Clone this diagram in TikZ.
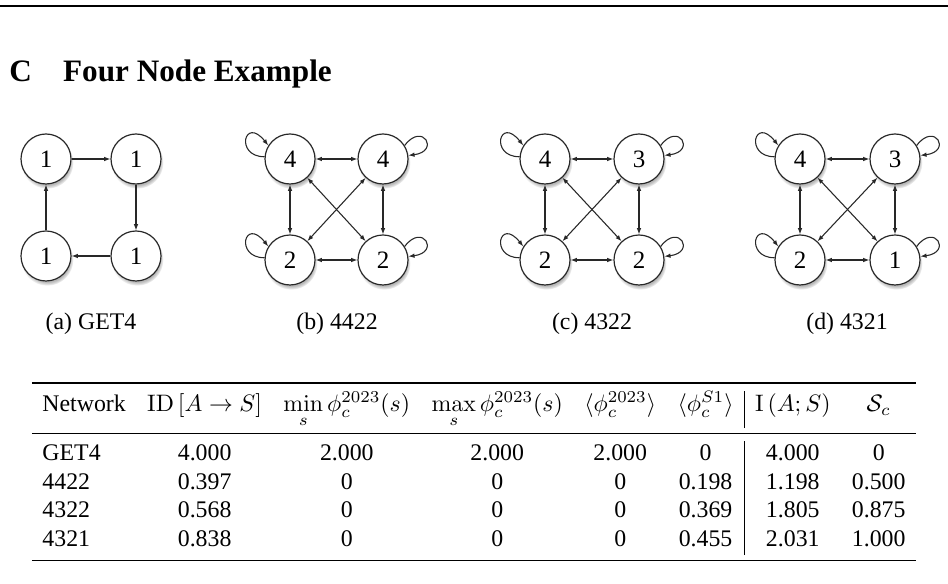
\documentclass[tikz,border=0pt]{standalone}
\usepackage{amsmath,amssymb}
\usepackage[no-math]{fontspec}
\setmainfont{Liberation Serif}
\usepackage{booktabs}
\usepackage{xcolor}
\usepackage{tikz}
\usetikzlibrary{arrows.meta,positioning,shadows}
\definecolor{edgecol}{RGB}{40,40,40}
\tikzset{
  arc/.style={-{Latex[length=2.6pt,width=1.9pt]},line width=0.45pt,draw=edgecol},
  biarc/.style={{Latex[length=2.6pt,width=1.9pt]}-{Latex[length=2.6pt,width=1.9pt]},
    line width=0.45pt,draw=edgecol},
  vtx/.style={circle,draw=edgecol,line width=0.5pt,fill=white,minimum size=21pt,
    inner sep=0pt,font=\fontsize{10.5}{12}\selectfont,
    circular drop shadow={shadow xshift=0.5pt,shadow yshift=-1.4pt,
      shadow scale=1.05,opacity=0.55}},
  subcap/.style={anchor=base,font=\fontsize{10}{12}\selectfont},
  heading/.style={anchor=base west,inner sep=0pt,font=\fontsize{13.1}{15}\selectfont\bfseries}
}

\begin{document}
\begin{tikzpicture}[x=0.42pt,y=-0.42pt]
  \path[fill=white,use as bounding box] (0,0) rectangle (948,584);
  \draw[line width=0.5pt] (0,6) -- (948,6);
  \node[heading] (sec) at (9,82) {C\hspace{1em}Four Node Example};

  % (a) GET4
  \node[vtx] (aTL) at (46,159) {1};
  \node[vtx] (aTR) at (136,159) {1};
  \node[vtx] (aBL) at (46,256) {1};
  \node[vtx] (aBR) at (136,256) {1};
  \draw[arc] (aTL)--(aTR);
  \draw[arc] (aTR)--(aBR);
  \draw[arc] (aBR)--(aBL);
  \draw[arc] (aBL)--(aTL);
  \node[subcap] (capA) at (91,330) {(a) GET4};

  % (b) 4422
  \node[vtx] (bTL) at (290,159) {4};
  \node[vtx] (bTR) at (383,159) {4};
  \node[vtx] (bBL) at (290,260) {2};
  \node[vtx] (bBR) at (383,260) {2};
  \draw[biarc] (bTL)--(bTR);
  \draw[biarc] (bBL)--(bBR);
  \draw[biarc] (bTL)--(bBL);
  \draw[biarc] (bTR)--(bBR);
  \draw[biarc] (bTL)--(bBR);
  \draw[biarc] (bTR)--(bBL);
  \draw[arc] (bTL.175) .. controls +(-30,0) and +(-24,-30) .. (bTL.148);
  \draw[arc] (bBL.175) .. controls +(-30,0) and +(-24,-30) .. (bBL.148);
  \draw[arc] (bTR.32) .. controls +(18,-24) and +(32,-4) .. (bTR.8);
  \draw[arc] (bBR.32) .. controls +(18,-24) and +(32,-4) .. (bBR.8);
  \node[subcap] (capB) at (337,330) {(b) 4422};

  % (c) 4322
  \node[vtx] (cTL) at (545,159) {4};
  \node[vtx] (cTR) at (639,159) {3};
  \node[vtx] (cBL) at (545,260) {2};
  \node[vtx] (cBR) at (639,260) {2};
  \draw[biarc] (cTL)--(cTR);
  \draw[biarc] (cBL)--(cBR);
  \draw[biarc] (cTL)--(cBL);
  \draw[biarc] (cTR)--(cBR);
  \draw[biarc] (cTL)--(cBR);
  \draw[biarc] (cTR)--(cBL);
  \draw[arc] (cTL.175) .. controls +(-30,0) and +(-24,-30) .. (cTL.148);
  \draw[arc] (cBL.175) .. controls +(-30,0) and +(-24,-30) .. (cBL.148);
  \draw[arc] (cTR.32) .. controls +(18,-24) and +(32,-4) .. (cTR.8);
  \draw[arc] (cBR.32) .. controls +(18,-24) and +(32,-4) .. (cBR.8);
  \node[subcap] (capC) at (592,330) {(c) 4322};

  % (d) 4321
  \node[vtx] (dTL) at (800,159) {4};
  \node[vtx] (dTR) at (895,159) {3};
  \node[vtx] (dBL) at (800,260) {2};
  \node[vtx] (dBR) at (895,260) {1};
  \draw[biarc] (dTL)--(dTR);
  \draw[biarc] (dBL)--(dBR);
  \draw[biarc] (dTL)--(dBL);
  \draw[biarc] (dTR)--(dBR);
  \draw[biarc] (dTL)--(dBR);
  \draw[biarc] (dTR)--(dBL);
  \draw[arc] (dTL.175) .. controls +(-30,0) and +(-24,-30) .. (dTL.148);
  \draw[arc] (dBL.175) .. controls +(-30,0) and +(-24,-30) .. (dBL.148);
  \draw[arc] (dTR.32) .. controls +(18,-24) and +(32,-4) .. (dTR.8);
  \draw[arc] (dBR.32) .. controls +(18,-24) and +(32,-4) .. (dBR.8);
  \node[subcap] (capD) at (847,330) {(d) 4321};

  % results table
  \node[inner sep=0pt,anchor=north,font=\fontsize{10}{12}\selectfont] (results) at (474,382) {%
    \setlength{\tabcolsep}{4.5pt}%
    \begin{tabular}{lccccc|cc}
      \toprule
      Network & $\mathrm{ID}\,[A\rightarrow S]$ & $\min\limits_s \phi_c^{2023}(s)$
        & $\max\limits_s \phi_c^{2023}(s)$ & $\langle\phi_c^{2023}\rangle$
        & $\langle\phi_c^{S1}\rangle$ & $\mathrm{I}\,(A;S)$ & $\mathcal{S}_c$ \\
      \midrule
      GET4 & 4.000 & 2.000 & 2.000 & 2.000 & 0 & 4.000 & 0 \\
      4422 & 0.397 & 0 & 0 & 0 & 0.198 & 1.198 & 0.500 \\
      4322 & 0.568 & 0 & 0 & 0 & 0.369 & 1.805 & 0.875 \\
      4321 & 0.838 & 0 & 0 & 0 & 0.455 & 2.031 & 1.000 \\
      \bottomrule
    \end{tabular}};
\end{tikzpicture}
\end{document}
